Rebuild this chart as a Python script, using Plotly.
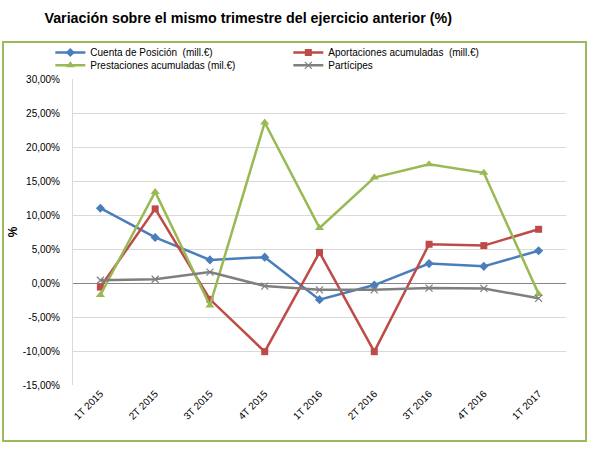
import plotly.graph_objects as go

categories = ["1T 2015", "2T 2015", "3T 2015", "4T 2015", "1T 2016",
              "2T 2016", "3T 2016", "4T 2016", "1T 2017"]
cuenta = [11.0, 6.7, 3.4, 3.8, -2.45, -0.3, 2.85, 2.45, 4.75]
aportaciones = [-0.6, 10.9, -2.4, -10.1, 4.5, -10.1, 5.7, 5.5, 7.9]
prestaciones = [-1.75, 13.4, -3.3, 23.6, 8.1, 15.5, 17.45, 16.2, -1.6]
participes = [0.4, 0.55, 1.6, -0.45, -1.0, -1.0, -0.75, -0.8, -2.25]
y_ticks = [30, 25, 20, 15, 10, 5, 0, -5, -10, -15]
y_ticktext = ["30,00%", "25,00%", "20,00%", "15,00%", "10,00%", "5,00%",
              "0,00%", "-5,00%", "-10,00%", "-15,00%"]

font = "Liberation Sans, Arial, sans-serif"
fig = go.Figure()
fig.add_trace(go.Scatter(x=categories, y=cuenta, mode="lines+markers",
                         name="Cuenta de Posición  (mill.€)", legend="legend",
                         line=dict(color="#4A7EBB", width=2.5),
                         marker=dict(symbol="diamond", size=7, color="#4A7EBB")))
fig.add_trace(go.Scatter(x=categories, y=aportaciones, mode="lines+markers",
                         name="Aportaciones acumuladas  (mill.€)", legend="legend",
                         line=dict(color="#BE4B48", width=2.5),
                         marker=dict(symbol="square", size=7, color="#BE4B48")))
fig.add_trace(go.Scatter(x=categories, y=prestaciones, mode="lines+markers",
                         name="Prestaciones acumuladas (mil.€)", legend="legend2",
                         line=dict(color="#98B954", width=2.5),
                         marker=dict(symbol="triangle-up", size=8, color="#98B954")))
fig.add_trace(go.Scatter(x=categories, y=participes, mode="lines+markers",
                         name="Partícipes", legend="legend2",
                         line=dict(color="#7F7F7F", width=2.5),
                         marker=dict(symbol="x-thin", size=7,
                                     line=dict(color="#7F7F7F", width=1.2))))

leg = dict(orientation="h", x=-0.046, xanchor="left", yanchor="top",
           entrywidth=193, font=dict(size=10, color="#000000"), itemwidth=30,
           bgcolor="rgba(0,0,0,0)", tracegroupgap=0)

fig.update_layout(
    width=601, height=450,
    margin=dict(l=73, r=35, t=79, b=65, autoexpand=False),
    paper_bgcolor="white", plot_bgcolor="white",
    font=dict(family=font, size=10, color="#000000"),
    title=dict(text="<b>Variación sobre el mismo trimestre del ejercicio anterior (%)</b>",
               x=0.413, xanchor="center", y=0.96, yanchor="middle",
               font=dict(family=font, size=14.3, color="#000000")),
    showlegend=True,
    legend=dict(leg, y=1.134),
    legend2=dict(leg, y=1.092),
    xaxis=dict(type="category", range=[-0.5, 8.5], showgrid=False,
               tickangle=-45, tickfont=dict(size=10, color="#000000"), ticks="",
               showline=False, zeroline=False),
    yaxis=dict(range=[-15, 30], tickvals=y_ticks, ticktext=y_ticktext,
               showgrid=True, gridcolor="#D9D9D9", gridwidth=1,
               zeroline=True, zerolinecolor="#868686", zerolinewidth=1,
               showline=True, linecolor="#D9D9D9", linewidth=1,
               tickfont=dict(size=10, color="#000000"), ticks="",
               ticklabelstandoff=10,
               title=dict(text="<b>%</b>", font=dict(size=12), standoff=2)),
    shapes=[dict(type="rect", xref="paper", yref="paper",
                 x0=-0.142, x1=1.0406, y0=-0.183, y1=1.121,
                 line=dict(color="#9BBB59", width=2), fillcolor="rgba(0,0,0,0)",
                 layer="below")],
)
fig.write_html("out.html", config={"displayModeBar": False},
               post_script="document.body.style.margin='0';document.body.style.overflow='hidden';")
